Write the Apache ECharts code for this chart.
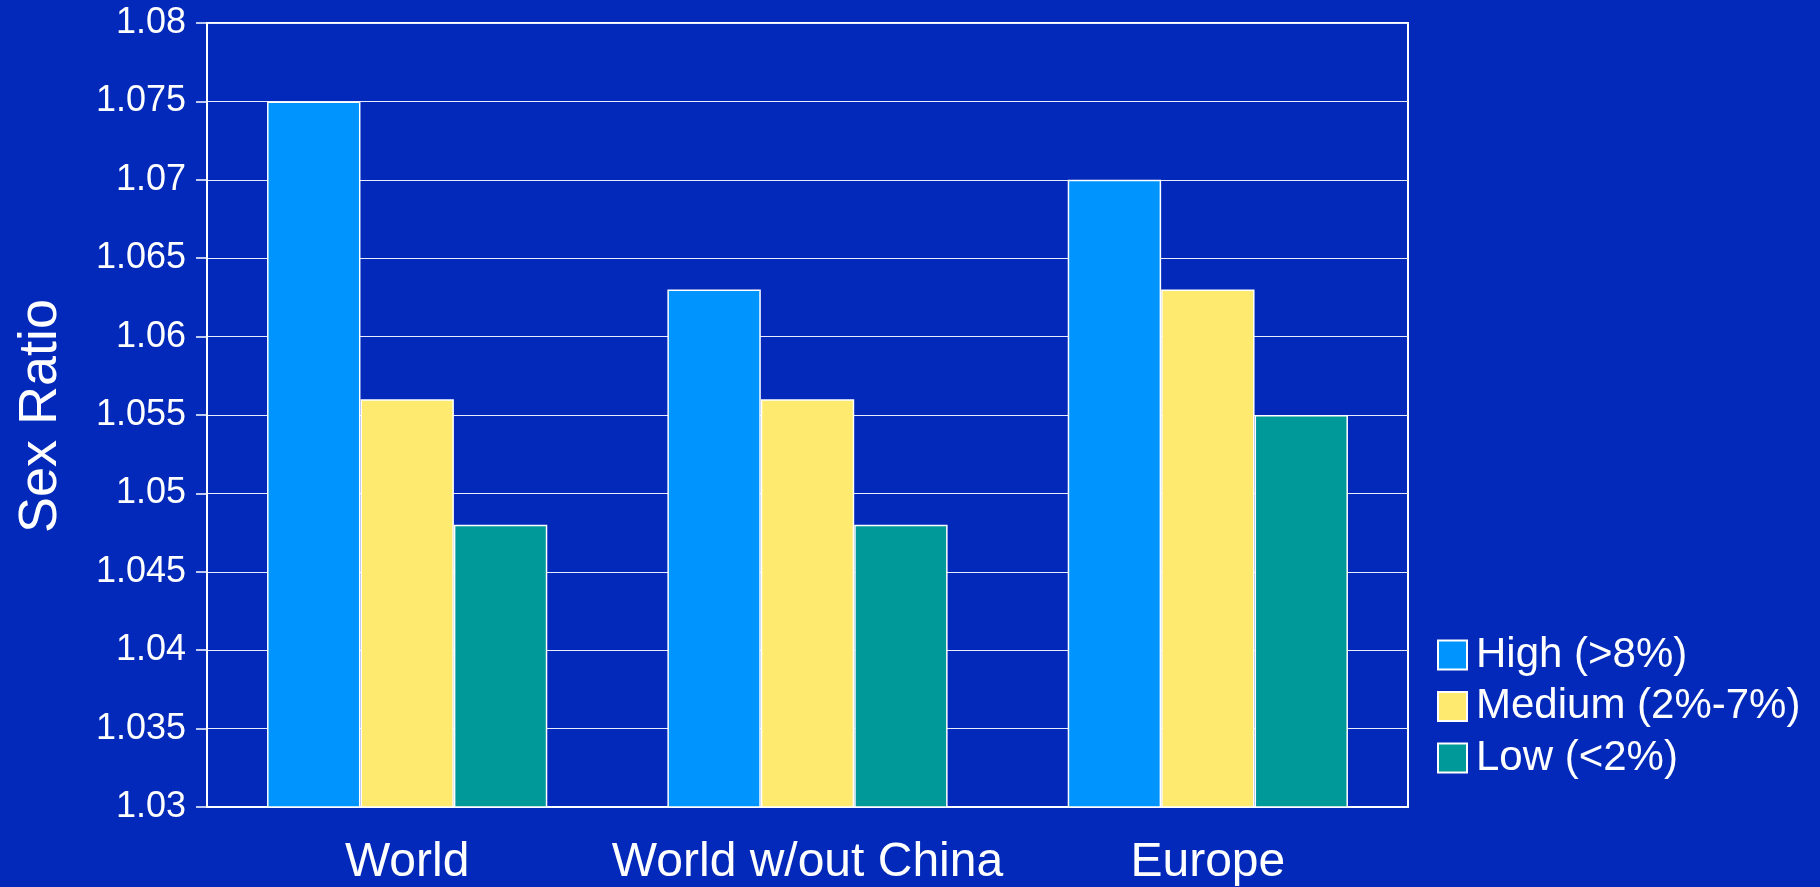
<!DOCTYPE html>
<html>
<head>
<meta charset="utf-8">
<script src="https://cdn.jsdelivr.net/npm/echarts@6/dist/echarts.min.js"></script>
<style>
html,body{margin:0;padding:0;background:#0229B9;}
#chart{width:1820px;height:887px;}
</style>
</head>
<body>
<div id="chart"></div>
<script>
var categories = ['World', 'World w/out China', 'Europe'];
var seriesNames = ['High (>8%)', 'Medium (2%-7%)', 'Low (<2%)'];
var highValues = [1.075, 1.063, 1.070];
var mediumValues = [1.056, 1.056, 1.063];
var lowValues = [1.048, 1.048, 1.055];
var yTicks = ['1.03','1.035','1.04','1.045','1.05','1.055','1.06','1.065','1.07','1.075','1.08'];

var colors = ['#0094FF', '#FFEA70', '#009999'];
var font = '"Liberation Sans", Arial, sans-serif';

function mkSeries(name, data, color) {
  return {
    name: name,
    type: 'bar',
    data: data,
    barGap: '0%',
    barCategoryGap: '30%',
    itemStyle: { color: color, borderColor: '#ffffff', borderWidth: 1.5 },
    emphasis: { disabled: true }
  };
}

var chart = echarts.init(document.getElementById('chart'), null, { renderer: 'canvas' });
chart.setOption({
  backgroundColor: '#0229B9',
  animation: false,
  grid: { left: 207, top: 23, right: 412, bottom: 78, show: true, borderColor: '#ffffff', borderWidth: 2, backgroundColor: 'transparent' },
  legend: {
    orient: 'vertical',
    left: 1437,
    top: 634,
    padding: 0,
    icon: 'rect',
    itemWidth: 29,
    itemHeight: 29,
    itemGap: 9.5,
    data: seriesNames,
    textStyle: { color: '#ffffff', fontSize: 42, lineHeight: 42, fontFamily: font, padding: [0,0,0,4] },
    selectedMode: false
  },
  graphic: [{
    type: 'text',
    left: 41 - 27,
    top: 419 - 120,
    rotation: Math.PI / 2,
    originX: 0, originY: 0,
    style: { text: 'Sex Ratio', fill: '#ffffff', fontSize: 54, fontFamily: font },
    z: 10
  }],
  xAxis: {
    type: 'category',
    data: categories,
    axisLine: { show: true, lineStyle: { color: '#ffffff', width: 2 } },
    axisTick: { show: false },
    axisLabel: { color: '#ffffff', fontSize: 48, fontFamily: font, margin: 32, lineHeight: 48, interval: 0 }
  },
  yAxis: {
    type: 'value',
    min: 1.03,
    max: 1.08,
    interval: 0.005,
    axisLine: { show: true, lineStyle: { color: '#ffffff', width: 2 } },
    axisTick: { show: true, length: 11, lineStyle: { color: '#ffffff', width: 1.5 } },
    splitLine: { show: true, lineStyle: { color: '#e8ecff', width: 1.2 } },
    axisLabel: {
      color: '#ffffff', fontSize: 36, fontFamily: font, margin: 21,
      formatter: function (v) {
        var idx = Math.round((v - 1.03) / 0.005);
        return yTicks[idx] !== undefined ? yTicks[idx] : '';
      }
    }
  },
  series: [
    mkSeries(seriesNames[0], highValues, colors[0]),
    mkSeries(seriesNames[1], mediumValues, colors[1]),
    mkSeries(seriesNames[2], lowValues, colors[2])
  ]
});
</script>
</body>
</html>
